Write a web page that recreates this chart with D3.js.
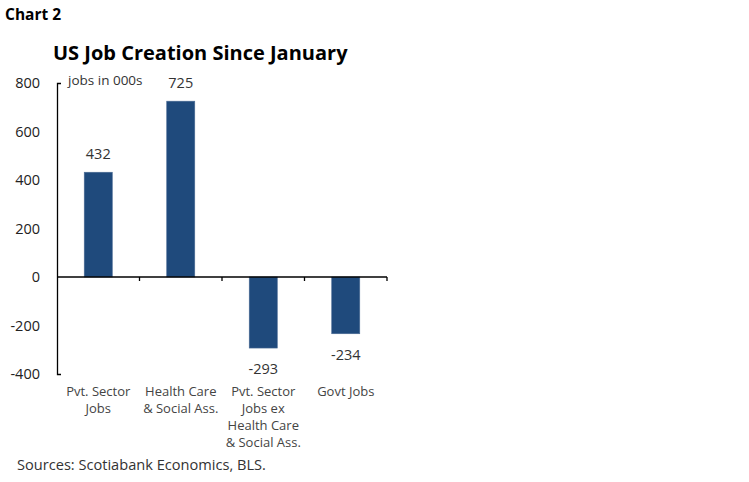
<!DOCTYPE html>
<html>
<head>
<meta charset="utf-8">
<script src="https://cdn.jsdelivr.net/npm/d3@7"></script>
<style>
  body { margin: 0; background: #fff; }
  text { font-family: "Open Sans", sans-serif; }
</style>
</head>
<body>
<svg width="749" height="482"></svg>
<script>
// categories (multi-line labels) and values, jobs in 000s
var categories = [
    ['Pvt. Sector', 'Jobs'],
    ['Health Care', '& Social Ass.'],
    ['Pvt. Sector', 'Jobs ex', 'Health Care', '& Social Ass.'],
    ['Govt Jobs']
];
var values = [432, 725, -293, -234];
var yTicks = [-400, -200, 0, 200, 400, 600, 800];

var svg = d3.select('svg');

var padding = {t: 83, l: 57, r: 362, b: 108};
var plotW = 749 - padding.l - padding.r;

var keys = categories.map(function(d, i) { return i; });

var x = d3.scaleBand()
    .domain(keys)
    .range([padding.l, padding.l + plotW])
    .paddingInner(0.66)
    .paddingOuter(0.33);

var y = d3.scaleLinear()
    .domain([-400, 800])
    .range([374, 83]);

var barColor = '#1f4a7c';

// plain hyphen for negatives, like the original
function fmt(d) { return String(d); }

// title bits
svg.append('text')
    .attr('x', 5).attr('y', 20)
    .style('font-size', '15.5px').style('font-weight', 'bold')
    .text('Chart 2');

svg.append('text')
    .attr('x', 53).attr('y', 60)
    .style('font-size', '20px').style('font-weight', 'bold')
    .text('US Job Creation Since January');

// y axis, only end ticks pointing inward
var yAxis = d3.axisLeft(y)
    .tickValues(yTicks)
    .tickSizeInner(0)
    .tickSizeOuter(-4)
    .tickPadding(17)
    .tickFormat(fmt);

var yG = svg.append('g')
    .attr('transform', 'translate(' + padding.l + ',0)')
    .call(yAxis);
yG.select('.domain').attr('stroke', '#000').attr('stroke-width', 1.3);
yG.selectAll('.tick text')
    .style('font-size', '14.5px')
    .style('font-family', '"Open Sans", sans-serif')
    .attr('fill', '#222');

svg.append('text')
    .attr('x', 68).attr('y', 85)
    .style('font-size', '13.5px')
    .attr('fill', '#333')
    .text('jobs in 000s');

// bars
svg.selectAll('.bar')
    .data(values)
    .enter()
    .append('rect')
    .attr('class', 'bar')
    .attr('x', function(d, i) { return x(i); })
    .attr('width', x.bandwidth())
    .attr('y', function(d) { return y(Math.max(0, d)); })
    .attr('height', function(d) { return Math.abs(y(d) - y(0)); })
    .attr('fill', barColor)
    .attr('stroke', '#4a6b94')
    .attr('stroke-width', 0.6);

// value labels
svg.selectAll('.value')
    .data(values)
    .enter()
    .append('text')
    .attr('class', 'value')
    .attr('x', function(d, i) { return x(i) + x.bandwidth() / 2; })
    .attr('y', function(d) { return d >= 0 ? y(d) - 13 : y(d) + 26; })
    .attr('text-anchor', 'middle')
    .style('font-size', '14.5px')
    .attr('fill', '#333')
    .text(fmt);

// x axis along zero line, ticks between categories
var xEdges = keys.map(function(i) { return padding.l + (i + 1) * plotW / keys.length; });

svg.append('line')
    .attr('x1', padding.l).attr('x2', padding.l + plotW)
    .attr('y1', y(0)).attr('y2', y(0))
    .attr('stroke', '#000').attr('stroke-width', 1.3);

svg.selectAll('.xtick')
    .data(xEdges)
    .enter()
    .append('line')
    .attr('x1', function(d) { return d; }).attr('x2', function(d) { return d; })
    .attr('y1', y(0)).attr('y2', y(0) + 4)
    .attr('stroke', '#000').attr('stroke-width', 1.3);

// category labels
var catG = svg.selectAll('.cat')
    .data(categories)
    .enter()
    .append('text')
    .attr('class', 'cat')
    .attr('text-anchor', 'middle')
    .style('font-size', '13px')
    .attr('fill', '#444');

catG.selectAll('tspan')
    .data(function(d, i) { return d.map(function(s) { return {s: s, i: i}; }); })
    .enter()
    .append('tspan')
    .attr('x', function(d) { return x(d.i) + x.bandwidth() / 2; })
    .attr('y', function(d, j) { return 396 + j * 17; })
    .text(function(d) { return d.s; });

svg.append('text')
    .attr('x', 17).attr('y', 470)
    .style('font-size', '14.6px')
    .attr('fill', '#333')
    .text('Sources: Scotiabank Economics, BLS.');
</script>
</body>
</html>
